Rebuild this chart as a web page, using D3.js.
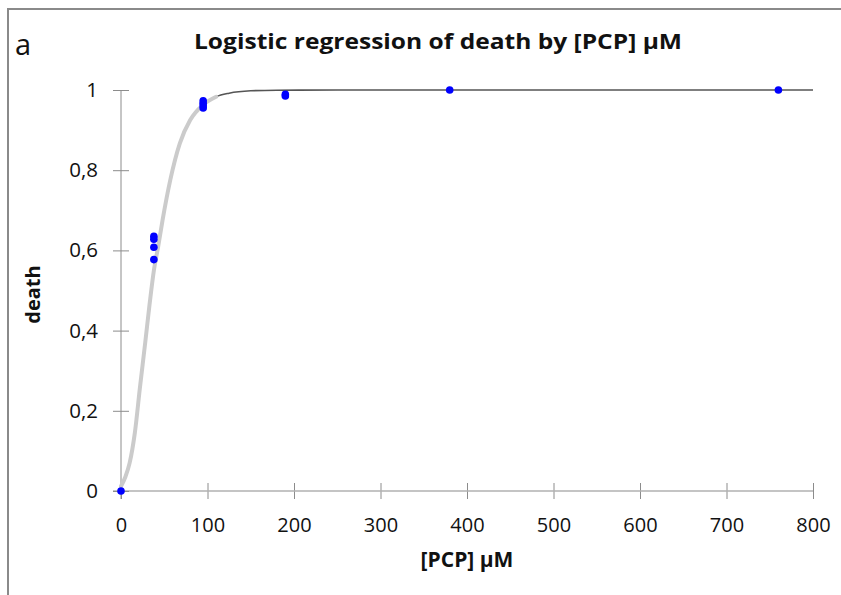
<!DOCTYPE html>
<html>
<head>
<meta charset="utf-8">
<script src="https://cdn.jsdelivr.net/npm/d3@7"></script>
<style>
  html, body { margin: 0; padding: 0; background: #fff; }
  svg { display: block; font-family: "Open Sans", sans-serif; }
</style>
</head>
<body>
<svg id="chart" width="841" height="595"></svg>
<script>
// observations: [PCP] in µM and the death fraction
const doseX = [0, 38, 38, 38, 38, 95, 95, 95, 95, 190, 190, 380, 760]
const deathY = [0, 0.635, 0.628, 0.608, 0.577, 0.973, 0.967, 0.961, 0.955, 0.989, 0.985, 1, 1]

// fitted logistic curve
const curveX = [0, 5, 10, 16, 22, 28, 33, 38, 43, 48, 57, 68, 80, 95, 110, 125, 150, 180, 250, 400, 800]
const curveY = [0.012, 0.035, 0.07, 0.145, 0.26, 0.37, 0.465, 0.55, 0.61, 0.675, 0.776, 0.867, 0.925, 0.963, 0.983, 0.992, 0.998, 0.9995, 1, 1, 1]
const bandEnd = 122 // the grey band fades out here

const xTicks = [0, 100, 200, 300, 400, 500, 600, 700, 800]
const yTicks = [0, 0.2, 0.4, 0.6, 0.8, 1]

const svg = d3.select('#chart')

const x = d3.scaleLinear().domain([0, 800]).range([121, 813])
const y = d3.scaleLinear().domain([0, 1]).range([491, 90])

const axisCol = '#8c8c8c'
const fmt = d => d3.format('~g')(d).replace('.', ',')

// frame
svg.append('path')
  .attr('d', 'M8,595 V9 H841')
  .attr('fill', 'none')
  .attr('stroke', '#8a8a8a')
  .attr('stroke-width', 2)

// panel letter + title
svg.append('text').attr('x', 15).attr('y', 55)
  .attr('font-size', 29).attr('fill', '#111').text('a')
svg.append('text').attr('x', 438).attr('y', 49)
  .attr('text-anchor', 'middle').attr('font-size', 21.5).attr('font-weight', 'bold')
  .attr('textLength', 488).attr('lengthAdjust', 'spacingAndGlyphs')
  .attr('fill', '#111').text('Logistic regression of death by [PCP] µM')

// x axis
const xAxis = svg.append('g').attr('transform', `translate(0,${y(0)})`)
  .call(d3.axisBottom(x).tickValues(xTicks).tickSize(0).tickFormat(d3.format('d')).tickPadding(27))
xAxis.select('.domain').remove()
xAxis.append('line').attr('x1', 113).attr('x2', x(800))
  .attr('stroke', '#b0b0b0').attr('stroke-width', 1.5)
xAxis.selectAll('.tick').append('line')
  .attr('y1', -8).attr('y2', 8).attr('stroke', axisCol)
xAxis.selectAll('.tick text').attr('font-size', 20).attr('fill', '#111')
  .attr('font-family', '"Open Sans", sans-serif')

// y axis
const yAxis = svg.append('g').attr('transform', `translate(${x(0)},0)`)
  .call(d3.axisLeft(y).tickValues(yTicks).tickSize(0).tickFormat(fmt).tickPadding(23))
yAxis.select('.domain').remove()
yAxis.append('line').attr('y1', y(1)).attr('y2', y(0) + 8)
  .attr('stroke', axisCol)
yAxis.selectAll('.tick').append('line')
  .attr('x1', -8).attr('x2', 8).attr('stroke', axisCol)
yAxis.selectAll('.tick text').attr('font-size', 20.5).attr('fill', '#111')
  .attr('font-family', '"Open Sans", sans-serif')

// axis titles
svg.append('text')
  .attr('transform', `translate(40,${(y(0) + y(1)) / 2 + 4}) rotate(-90)`)
  .attr('text-anchor', 'middle').attr('font-size', 20).attr('font-weight', 'bold')
  .attr('fill', '#111').text('death')
svg.append('text').attr('x', (x(0) + x(800)) / 2).attr('y', 567)
  .attr('text-anchor', 'middle').attr('font-size', 21).attr('font-weight', 'bold')
  .attr('fill', '#111').text('[PCP] µM')

// fitted curve
const pts = curveX.map((v, i) => [v, curveY[i]])
const line = d3.line().x(d => x(d[0])).y(d => y(d[1])).curve(d3.curveMonotoneX)

svg.append('path').datum(pts)
  .attr('d', line).attr('fill', 'none')
  .attr('stroke', '#555').attr('stroke-width', 1.6)

svg.append('path').datum(pts.filter(d => d[0] <= bandEnd))
  .attr('d', line).attr('fill', 'none')
  .attr('stroke', '#cbcbcb').attr('stroke-width', 4).attr('stroke-linecap', 'round')

// observations
svg.selectAll('circle.obs')
  .data(doseX.map((v, i) => [v, deathY[i]]))
  .enter().append('circle')
  .attr('class', 'obs')
  .attr('cx', d => x(d[0]))
  .attr('cy', d => y(d[1]))
  .attr('r', 3.8)
  .attr('fill', '#0000ff')
</script>
</body>
</html>
